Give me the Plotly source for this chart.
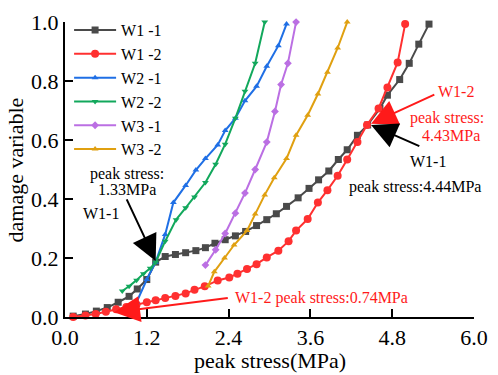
import plotly.graph_objects as go

# ---- data ----
w11_x = [0.12, 0.30, 0.46, 0.62, 0.78, 0.94, 1.06, 1.20, 1.33, 1.47, 1.62, 1.77, 1.92, 2.06, 2.20, 2.35,
         2.50, 2.65, 2.81, 2.96, 3.10, 3.25, 3.42, 3.58, 3.72, 3.87, 4.01, 4.14, 4.29, 4.44, 4.62, 4.73,
         4.91, 5.05, 5.19, 5.34]
w11_y = [0.003, 0.010, 0.020, 0.032, 0.050, 0.070, 0.095, 0.127, 0.186, 0.205, 0.212, 0.218, 0.225, 0.235,
         0.250, 0.262, 0.275, 0.290, 0.310, 0.330, 0.350, 0.375, 0.404, 0.436, 0.465, 0.495, 0.534, 0.567,
         0.616, 0.651, 0.707, 0.752, 0.805, 0.860, 0.925, 0.993]

w12_x = [0.12, 0.30, 0.45, 0.60, 0.75, 0.90, 1.05, 1.20, 1.33, 1.47, 1.62, 1.77, 1.90, 2.05, 2.24, 2.41,
         2.53, 2.67, 2.81, 2.96, 3.13, 3.28, 3.39, 3.56, 3.71, 3.85, 4.00, 4.14, 4.29, 4.43, 4.60, 4.73,
         4.88, 4.99]
w12_y = [0.000, 0.005, 0.010, 0.018, 0.026, 0.034, 0.042, 0.050, 0.057, 0.064, 0.071, 0.080, 0.092, 0.104,
         0.124, 0.134, 0.147, 0.163, 0.179, 0.202, 0.225, 0.257, 0.293, 0.332, 0.388, 0.430, 0.479, 0.534,
         0.593, 0.651, 0.707, 0.778, 0.863, 0.993]

w21_x = [0.87, 1.05, 1.20, 1.33, 1.47, 1.59, 1.77, 1.92, 2.06, 2.24, 2.35, 2.50, 2.64, 2.81, 2.96, 3.13, 3.25]
w21_y = [0.023, 0.050, 0.127, 0.186, 0.280, 0.388, 0.446, 0.498, 0.537, 0.583, 0.632, 0.674, 0.733, 0.782,
         0.850, 0.920, 0.993]

w22_x = [0.84, 0.94, 1.05, 1.15, 1.25, 1.33, 1.47, 1.63, 1.77, 1.90, 2.06, 2.21, 2.35, 2.50, 2.64, 2.79, 2.93]
w22_y = [0.088, 0.104, 0.125, 0.147, 0.165, 0.186, 0.257, 0.330, 0.370, 0.407, 0.456, 0.518, 0.586, 0.674,
         0.765, 0.860, 1.000]

w31_x = [2.06, 2.21, 2.35, 2.50, 2.64, 2.79, 2.96, 3.08, 3.17, 3.27, 3.39]
w31_y = [0.176, 0.228, 0.283, 0.352, 0.420, 0.500, 0.593, 0.697, 0.788, 0.860, 1.000]

w32_x = [2.10, 2.19, 2.34, 2.48, 2.67, 2.79, 2.93, 3.07, 3.25, 3.39, 3.56, 3.71, 3.85, 4.00, 4.14]
w32_y = [0.105, 0.153, 0.200, 0.244, 0.293, 0.349, 0.414, 0.472, 0.537, 0.616, 0.684, 0.756, 0.830, 0.912, 1.000]

series_names = ["W1 -1", "W1 -2", "W2 -1", "W2 -2", "W3 -1", "W3 -2"]
x_ticks = [0.0, 1.2, 2.4, 3.6, 4.8, 6.0]
y_ticks = [0.0, 0.2, 0.4, 0.6, 0.8, 1.0]

FONT = "Liberation Serif"

styles = [
    ("#4a4a4a", "square", 7),
    ("#ff3030", "circle", 8),
    ("#1f6fe5", "triangle-up", 6),
    ("#12a85c", "triangle-down", 6),
    ("#bb6fe3", "diamond", 6),
    ("#e0a010", "triangle-up", 6),
]
data = [(w11_x, w11_y), (w12_x, w12_y), (w21_x, w21_y), (w22_x, w22_y), (w31_x, w31_y), (w32_x, w32_y)]

fig = go.Figure()
for i, ((xs, ys), (col, sym, sz), name) in enumerate(zip(data, styles, series_names)):
    fig.add_trace(go.Scatter(
        x=xs, y=ys, mode="lines+markers", name=name,
        line=dict(color=col, width=2),
        marker=dict(color=col, symbol=sym, size=sz),
        cliponaxis=False,
    ))

ann = []
def txt(x, y, t, color="black", size=16, xanchor="center"):
    ann.append(dict(x=x, y=y, xref="x", yref="y", text=t, showarrow=False,
                    font=dict(family=FONT, size=size, color=color), xanchor=xanchor, yanchor="middle"))

def arrow(x, y, ax, ay, color):
    ann.append(dict(x=x, y=y, ax=ax, ay=ay, xref="x", yref="y", axref="x", ayref="y",
                    text="", showarrow=True, arrowhead=2, arrowsize=2.6, arrowwidth=2,
                    arrowcolor=color, standoff=0))

arrow(1.33, 0.19, 0.895, 0.404, "black")
arrow(0.72, 0.016, 2.41, 0.065, "#ff1a1a")
arrow(4.49, 0.655, 5.44, 0.756, "#ff1a1a")
arrow(4.49, 0.651, 5.22, 0.577, "black")

txt(0.91, 0.485, "peak stress:")
txt(0.91, 0.433, "1.33MPa")
txt(0.53, 0.352, "W1-1")
txt(2.46, 0.065, "W1-2 peak stress:0.74MPa", color="#ff1a1a", xanchor="left")
txt(5.74, 0.765, "W1-2", color="#ff1a1a")
txt(5.61, 0.674, "peak stress:", color="#ff1a1a")
txt(5.66, 0.616, "4.43MPa", color="#ff1a1a")
txt(5.32, 0.528, "W1-1")
txt(5.14, 0.44, "peak stress:4.44MPa")

# axis titles
ann.append(dict(x=0.5, y=-0.147, xref="paper", yref="paper", text="peak stress(MPa)", showarrow=False,
                font=dict(family=FONT, size=22, color="black"), xanchor="center", yanchor="middle"))
ann.append(dict(x=-0.12, y=0.5, xref="paper", yref="paper", text="damage variable", showarrow=False,
                textangle=-90, font=dict(family=FONT, size=22, color="black"),
                xanchor="center", yanchor="middle"))

fig.update_layout(
    width=498, height=375,
    margin=dict(l=65, r=17, t=10, b=58),
    plot_bgcolor="white", paper_bgcolor="white",
    font=dict(family=FONT, size=22, color="black"),
    annotations=ann,
    legend=dict(x=0.01, y=1.03, xanchor="left", yanchor="top", bgcolor="rgba(0,0,0,0)",
                font=dict(family=FONT, size=16), tracegroupgap=0, itemwidth=42),
    showlegend=True,
)
fig.update_xaxes(range=[0, 6.0001], tickvals=x_ticks, ticktext=[f"{v:.1f}" for v in x_ticks],
                 tickfont=dict(family=FONT, size=22, color="black"), ticklabeloverflow="allow",
                 showline=True, linecolor="black", linewidth=2, ticks="inside", ticklen=8,
                 tickwidth=2, tickcolor="black", showgrid=False, zeroline=False)
fig.update_yaxes(range=[0, 1.0001], tickvals=y_ticks, ticktext=[f"{v:.1f}" for v in y_ticks],
                 tickfont=dict(family=FONT, size=22, color="black"), ticklabeloverflow="allow",
                 showline=True, linecolor="black", linewidth=2, ticks="inside", ticklen=8,
                 tickwidth=2, tickcolor="black", showgrid=False, zeroline=False)

fig.write_html("out.html", config={"displayModeBar": False},
               post_script="document.body.style.margin='0';")
